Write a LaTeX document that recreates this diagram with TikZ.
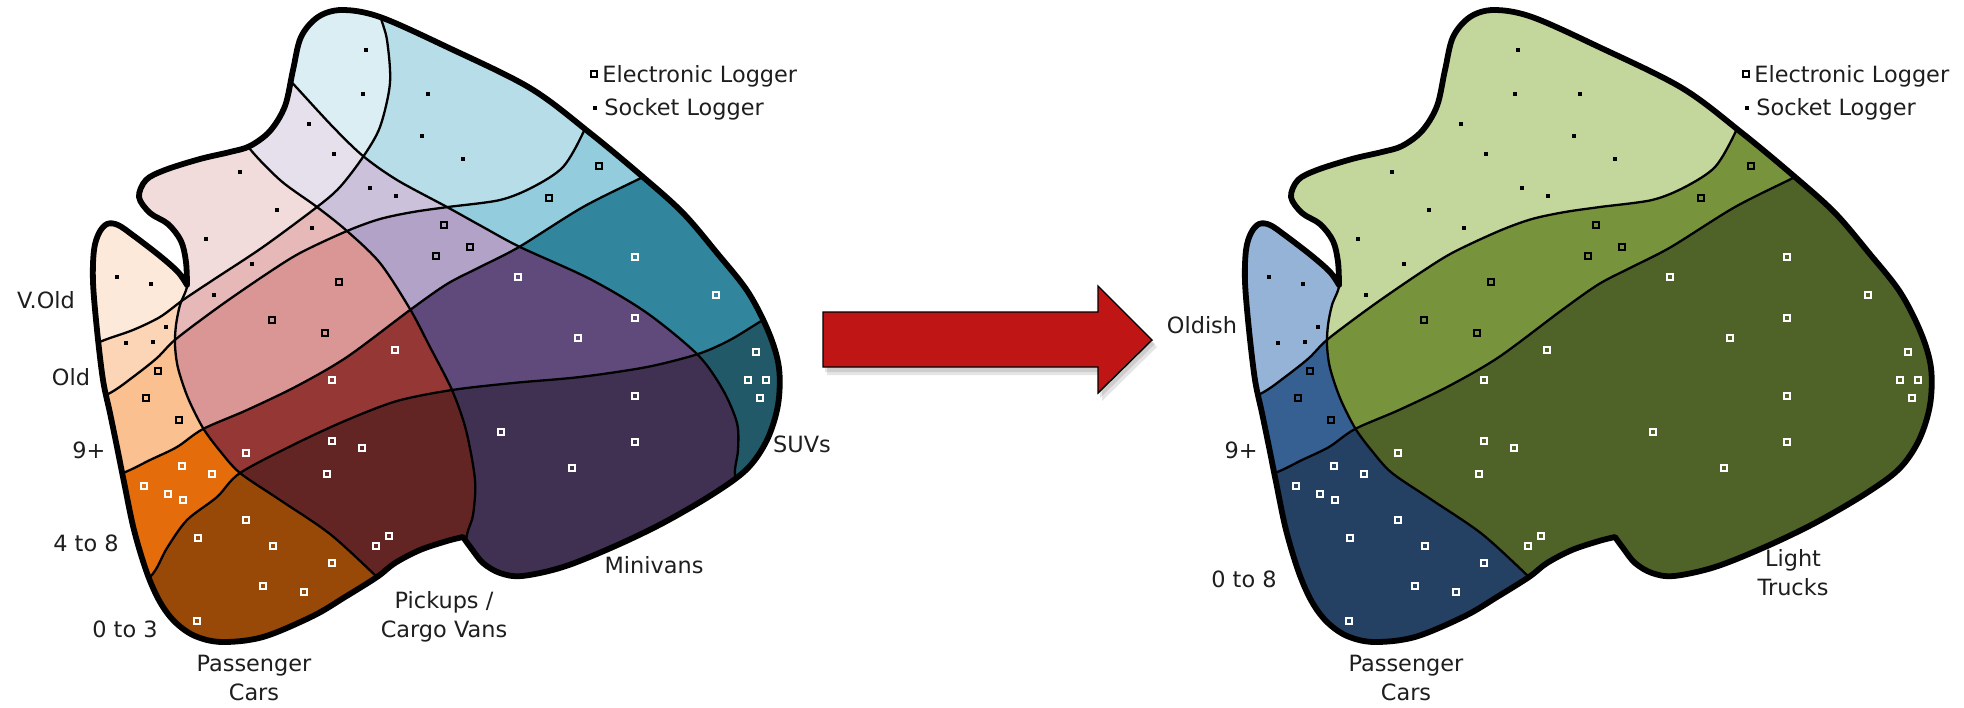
\documentclass[tikz,border=0pt]{standalone}
\usepackage{fontspec}
\setmainfont{DejaVu Sans}
\definecolor{pcA}{HTML}{FDE9D9}\definecolor{pcB}{HTML}{FBD5B5}\definecolor{pcC}{HTML}{FAC090}\definecolor{pcD}{HTML}{E46C0A}\definecolor{pcE}{HTML}{984807}
\definecolor{pkA}{HTML}{F2DCDB}\definecolor{pkB}{HTML}{E6B9B8}\definecolor{pkC}{HTML}{D99694}\definecolor{pkD}{HTML}{953735}\definecolor{pkE}{HTML}{632523}
\definecolor{mvA}{HTML}{E6E0EC}\definecolor{mvB}{HTML}{CCC1DA}\definecolor{mvC}{HTML}{B3A2C7}\definecolor{mvD}{HTML}{604A7B}\definecolor{mvE}{HTML}{403152}
\definecolor{suA}{HTML}{DBEEF4}\definecolor{suB}{HTML}{B7DEE8}\definecolor{suC}{HTML}{93CDDD}\definecolor{suD}{HTML}{31859C}\definecolor{suE}{HTML}{215968}
\definecolor{blA}{HTML}{95B3D7}\definecolor{blB}{HTML}{366092}\definecolor{blC}{HTML}{244062}
\definecolor{grA}{HTML}{C3D69B}\definecolor{grB}{HTML}{77933C}\definecolor{grC}{HTML}{4F6228}
\definecolor{arrowred}{HTML}{BF1515}
\definecolor{labtext}{HTML}{1E1E1E}

% outer outline of the map
\def\outerpath{plot[smooth,tension=0.55] coordinates {(187,285) (186,262) (181,241) (168,224) (150,213) (139,197) (146,180) (165,170) (200,159) (230,152) (250,146) (270,131) (285,106) (293,70) (301,37) (318,17) (342,10) (380,17) (447,47) (530,88) (590,133) (643,177) (683,213) (717,253) (748,292) (769,333) (779,368) (778,405) (767,440) (747,469) (713,494) (663,523) (613,547) (563,567) (522,576) (500,573) (483,563) (471,548) (463,537)}
 -- plot[smooth,tension=0.55] coordinates {(463,537) (447,541) (420,550) (395,563) (377,577) (345,597) (313,616) (263,637) (222,642) (195,636) (175,622) (160,602) (147,573) (134,530) (124,482) (117,447) (110,413) (103,380) (97,330) (93,282) (94,250) (99,233) (107,224) (118,225) (134,236) (160,256) (178,272) (187,285)} -- cycle}
% age boundaries
\def\lineAone{plot[smooth] coordinates {(70,356) (102,341) (133,330) (160,317) (183,300) (213,280) (263,247) (317,207) (340,187) (363,157) (380,127) (390,83) (387,40) (380,14) (376,-20)}}
\def\belowAone{\lineAone -- (1000,-20) -- (1000,800) -- (70,800) -- cycle}
\def\lineAtwo{plot[smooth] coordinates {(70,411) (110,393) (133,377) (157,358) (176,339) (220,306) (265,275) (300,253) (347,231) (380,219) (413,212) (448,207) (500,200) (533,187) (563,167) (583,133) (595,100)}}
\def\belowAtwo{\lineAtwo -- (1000,100) -- (1000,800) -- (70,800) -- cycle}
\def\lineAthree{plot[smooth] coordinates {(70,492) (123,473) (150,460) (177,447) (203,429) (247,410) (297,386) (347,357) (410,310) (447,284) (480,267) (519,247) (583,207) (643,177) (680,158)}}
\def\belowAthree{\lineAthree -- (1000,158) -- (1000,800) -- (70,800) -- cycle}
\def\lineAfour{plot[smooth] coordinates {(110,603) (150,577) (167,548) (187,520) (217,497) (240,473) (297,443) (347,420) (397,401) (452,390) (513,383) (580,377) (647,367) (698,354) (730,340) (763,320) (800,300)}}
\def\belowAfour{\lineAfour -- (1000,300) -- (1000,800) -- (110,800) -- cycle}
% vehicle-type boundaries
\def\lineCone{plot[smooth] coordinates {(172,258) (181,272) (187,286) (180,305) (176,325) (175,345) (178,368) (188,398) (203,428) (220,451) (240,473) (280,500) (330,534) (377,577) (400,600)}}
\def\rightCone{\lineCone -- (400,800) -- (1000,800) -- (1000,-50) -- (120,-50) -- (120,200) -- (150,235) -- cycle}
\def\lineCtwo{plot[smooth] coordinates {(240,120) (247,145) (280,180) (317,207) (347,231) (380,263) (410,309) (430,347) (452,390) (466,430) (475,480) (473,515) (466,540) (462,600)}}
\def\rightCtwo{\lineCtwo -- (462,800) -- (1000,800) -- (1000,-50) -- (240,-50) -- cycle}
\def\lineCthree{plot[smooth] coordinates {(285,75) (297,88) (333,127) (363,156) (397,180) (447,207) (483,227) (520,247) (590,279) (647,313) (698,355) (723,390) (737,423) (738,450) (735,475) (745,500)}}
\def\rightCthree{\lineCthree -- (745,800) -- (1000,800) -- (1000,-50) -- (285,-50) -- cycle}

\newcommand\mymarkers{%
  \foreach \p/\q in {366/50,363/94,428/94,422/136,463/159,309/124,334/154,240/172,277/210,206/239,370/188,396/196,312/228,252/264,214/295,117/277,151/284,166/327,126/343,153/342}
    \fill[sock] (\p-2.1,\q-2.1) rectangle (\p+2.1,\q+2.1);
  \foreach \p/\q in {444/225,470/247,436/256,339/282,272/320,325/333,599/166,549/198,158/371,146/398,179/420}
    \draw[elb] (\p-3.1,\q-3.1) rectangle (\p+3.1,\q+3.1);
  \foreach \p/\q in {182/466,212/474,144/486,168/494,183/500,246/453,395/350,332/380,332/441,362/448,327/474,246/520,198/538,273/546,332/563,263/586,304/592,197/621,376/546,389/536,501/432,635/257,716/295,518/277,635/318,578/338,756/352,748/380,766/380,760/398,635/396,635/442,572/468}
    \draw[elw] (\p-3.1,\q-3.1) rectangle (\p+3.1,\q+3.1);
}

\begin{document}
\begin{tikzpicture}[x=0.5pt,y=-0.5pt,
  divline/.style={line width=1.15pt, black},
  outerln/.style={line width=2.9pt, black, line join=round},
  lab/.style={font=\fontsize{11.2}{14.5}\selectfont, text=labtext, inner sep=0pt, align=center, anchor=base},
  legtext/.style={font=\fontsize{11.2}{14.5}\selectfont, text=labtext, inner sep=0pt, anchor=base west},
  elb/.style={draw=black, line width=1.15pt},
  elw/.style={draw=white, line width=1.15pt},
  sock/.style={fill=black}]
\useasboundingbox (0,0) rectangle (1964,707);
\fill[white] (0,0) rectangle (1964,707);

% ================= LEFT MAP =================
\begin{scope}
  \begin{scope}
    \clip \outerpath;
    \fill[pcA] (0,-60) rectangle (1000,800);
    \fill[pcB] \belowAone; \fill[pcC] \belowAtwo; \fill[pcD] \belowAthree; \fill[pcE] \belowAfour;
    \begin{scope}
      \clip \rightCone;
      \fill[pkA] (0,-60) rectangle (1000,800);
      \fill[pkB] \belowAone; \fill[pkC] \belowAtwo; \fill[pkD] \belowAthree; \fill[pkE] \belowAfour;
      \begin{scope}
        \clip \rightCtwo;
        \fill[mvA] (0,-60) rectangle (1000,800);
        \fill[mvB] \belowAone; \fill[mvC] \belowAtwo; \fill[mvD] \belowAthree; \fill[mvE] \belowAfour;
        \begin{scope}
          \clip \rightCthree;
          \fill[suA] (0,-60) rectangle (1000,800);
          \fill[suB] \belowAone; \fill[suC] \belowAtwo; \fill[suD] \belowAthree; \fill[suE] \belowAfour;
        \end{scope}
      \end{scope}
    \end{scope}
    \draw[divline] \lineAone; \draw[divline] \lineAtwo; \draw[divline] \lineAthree; \draw[divline] \lineAfour;
    \draw[divline] \lineCone; \draw[divline] \lineCtwo; \draw[divline] \lineCthree;
  \end{scope}
  \draw[outerln] \outerpath;
  \mymarkers
  % legend
  \draw[elb] (594-3,74-3) rectangle (594+3,74+3);
  \fill[sock] (595-2.1,108-2.1) rectangle (595+2.1,108+2.1);
  \node[legtext] (legEL) at (602,82) {Electronic Logger};
  \node[legtext] (legSL) at (604,115) {Socket Logger};
  % labels
  \node[lab] (lvold) at (46,308) {V.Old};
  \node[lab] (lold) at (71,385) {Old};
  \node[lab] (lnine) at (89,458) {9+};
  \node[lab] (lfour) at (86,551) {4 to 8};
  \node[lab] (lzero) at (125,637) {0 to 3};
  \node[lab] (lpass) at (254,700) {Passenger\\Cars};
  \node[lab] (lpick) at (444,637) {Pickups /\\Cargo Vans};
  \node[lab] (lmini) at (654,573) {Minivans};
  \node[lab] (lsuv) at (802,452) {SUVs};
\end{scope}

% ================= ARROW =================
\fill[black,opacity=0.10] (825,316) -- (1100,316) -- (1100,290) -- (1155,344) -- (1100,398) -- (1100,372) -- (825,372) -- cycle;
\fill[black,opacity=0.10] (827,319) -- (1102,319) -- (1102,293) -- (1157,347) -- (1102,401) -- (1102,375) -- (827,375) -- cycle;
\draw[line width=0.7pt, fill=arrowred, line join=miter] (823,312) -- (1098,312) -- (1098,286) -- (1152,340) -- (1098,393) -- (1098,367) -- (823,367) -- cycle;

% ================= RIGHT MAP =================
\begin{scope}[shift={(1152,0)}]
  \begin{scope}
    \clip \outerpath;
    \fill[blA] (0,-60) rectangle (1000,800);
    \fill[blB] \belowAtwo; \fill[blC] \belowAthree;
    \begin{scope}
      \clip \rightCone;
      \fill[grA] (0,-60) rectangle (1000,800);
      \fill[grB] \belowAtwo; \fill[grC] \belowAthree;
    \end{scope}
    \draw[divline] \lineAtwo; \draw[divline] \lineAthree; \draw[divline] \lineCone;
  \end{scope}
  \draw[outerln] \outerpath;
  \mymarkers
  \draw[elb] (594-3,74-3) rectangle (594+3,74+3);
  \fill[sock] (595-2.1,108-2.1) rectangle (595+2.1,108+2.1);
  \node[legtext] (legELr) at (602,82) {Electronic Logger};
  \node[legtext] (legSLr) at (604,115) {Socket Logger};
  \node[lab] (roldish) at (50,333) {Oldish};
  \node[lab] (rnine) at (89,458) {9+};
  \node[lab] (rzero) at (92,587) {0 to 8};
  \node[lab] (rpass) at (254,700) {Passenger\\Cars};
  \node[lab] (rlight) at (641,595) {Light\\Trucks};
\end{scope}
\end{tikzpicture}
\end{document}
